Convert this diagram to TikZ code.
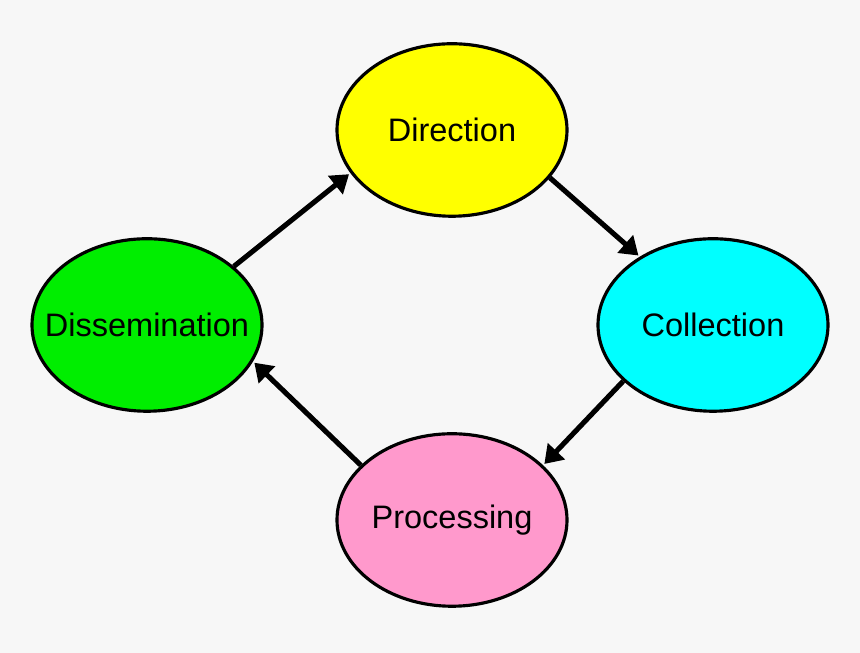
\documentclass[tikz,border=0pt]{standalone}
\usepackage{fontspec}
\setmainfont{Liberation Sans}
\usetikzlibrary{shapes.geometric,arrows.meta}

\definecolor{dirfill}{RGB}{255,255,0}
\definecolor{colfill}{RGB}{0,255,255}
\definecolor{disfill}{RGB}{0,238,0}
\definecolor{profill}{RGB}{255,153,204}

\tikzset{
  stage/.style={ellipse,draw=black,line width=1.8pt,minimum width=4.6cm,
    minimum height=3.45cm,inner sep=0pt,font=\fontsize{18.5}{22}\selectfont},
  flow/.style={line width=2.9pt,-{Triangle[length=10pt,width=13pt]},shorten >=1pt}
}

\begin{document}
\begin{tikzpicture}
  \fill[gray!6] (0,0) rectangle (17.2,13.06);
  \useasboundingbox (0,0) rectangle (17.2,13.06);

  \node[stage,fill=dirfill] (dir) at (9.04,10.46) {Direction};
  \node[stage,fill=colfill] (col) at (14.26,6.56) {Collection};
  \node[stage,fill=disfill,inner xsep=-0.45cm] (dis) at (2.94,6.56) {Dissemination};
  \node[stage,fill=profill] (pro) at (9.04,2.66) {Processing};

  \draw[flow] (dis.34) -- (dir.203);
  \draw[flow] (dir.334) -- (col.137);
  \draw[flow] (col.212) -- (pro.31);
  \draw[flow] (pro.149) -- (dis.341);
\end{tikzpicture}
\end{document}
